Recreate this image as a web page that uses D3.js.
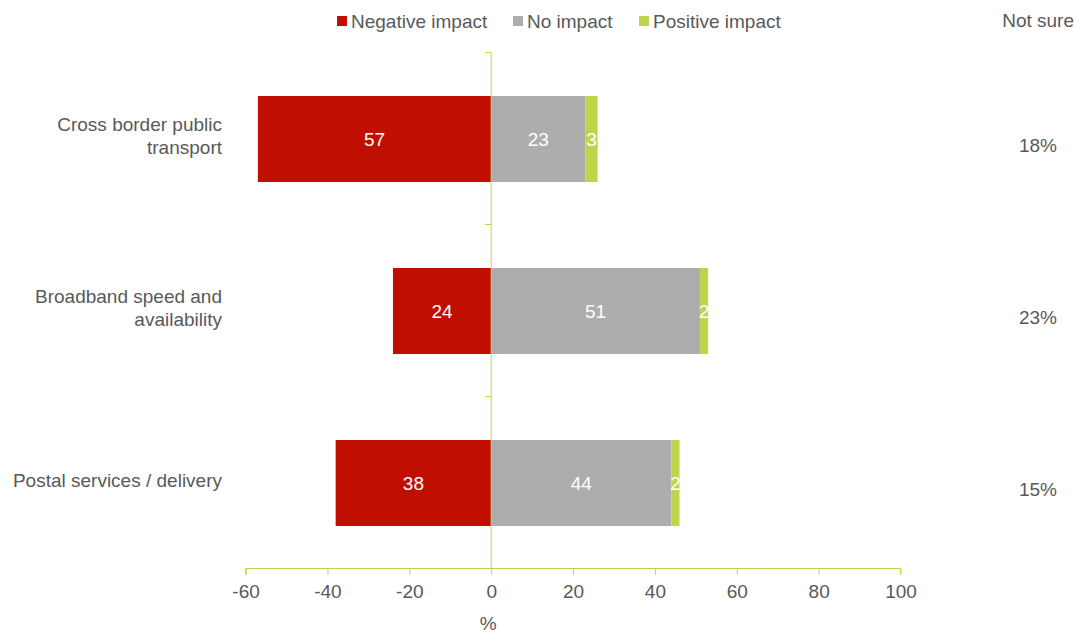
<!DOCTYPE html>
<html><head><meta charset="utf-8">
<script src="https://cdn.jsdelivr.net/npm/d3@7"></script>
<style>body{margin:0;background:#fff}svg{display:block}text{font-family:"Liberation Sans",Arial,sans-serif}</style>
</head><body>
<svg id="c" width="1078" height="634"></svg>
<script>
const categories = [["Cross border public","transport"],["Broadband speed and","availability"],["Postal services / delivery"]];
const negative = [57, 24, 38];
const noImpact = [23, 51, 44];
const positive = [3, 2, 2];
const notSure = ["18%", "23%", "15%"];
const xTicks = [-60,-40,-20,0,20,40,60,80,100];
const seriesNames = ["Negative impact","No impact","Positive impact"];
const colors = ["#C00F00","#ADADAD","#BDD54A"];
const axisColor = "#BDD54A";
const textColor = "#595959";
const fs = 19;

const svg = d3.select("#c");
const x = d3.scaleLinear().domain([-60,100]).range([245.6,900.5]);
const idx = categories.map((d,i)=>i);
const y = d3.scaleBand().domain(idx).range([53,569]).paddingInner(0.5).paddingOuter(0.25);

// bars
const rows = idx.map(i=>({i, segs:[
  {s:0, x0:-negative[i], x1:0, v:negative[i]},
  {s:1, x0:0, x1:noImpact[i], v:noImpact[i]},
  {s:2, x0:noImpact[i], x1:noImpact[i]+positive[i], v:positive[i]}
]}));
const g = svg.append("g");
rows.forEach(r=>{
  r.segs.forEach(s=>{
    g.append("rect").attr("x",x(s.x0)).attr("y",y(r.i)).attr("width",x(s.x1)-x(s.x0)).attr("height",y.bandwidth()).attr("fill",colors[s.s]);
    g.append("text").attr("x",(x(s.x0)+x(s.x1))/2).attr("y",y(r.i)+y.bandwidth()/2).attr("dy","0.35em")
      .attr("text-anchor","middle").attr("fill","#fff").attr("font-size",fs).text(s.v);
  });
});

// x axis
const xa = svg.append("g").attr("transform","translate(0,568.5)")
  .call(d3.axisBottom(x).tickValues(xTicks).tickSize(6).tickPadding(10).tickFormat(d=>String(d)));
xa.select(".domain").attr("stroke",axisColor).attr("d",`M${x(-60)},6V0H${x(100)}V6`);
xa.selectAll(".tick line").attr("stroke",axisColor);
xa.selectAll(".tick text").attr("fill",textColor).attr("font-size",fs).attr("font-family","Liberation Sans, Arial, sans-serif");
svg.append("text").attr("x",x(0)-3).attr("y",630).attr("text-anchor","middle").attr("fill",textColor).attr("font-size",fs).text("%");

// vertical axis at 0
svg.append("line").attr("x1",x(0)).attr("x2",x(0)).attr("y1",52.5).attr("y2",568.5).attr("stroke",axisColor);
const bounds = idx.map(i=>y(i)-y.step()*0.25);
bounds.forEach(b=>{
  const bb = Math.round(b)-0.5;
  svg.append("line").attr("x1",x(0)-6).attr("x2",x(0)).attr("y1",bb).attr("y2",bb).attr("stroke",axisColor);
});

// category labels
idx.forEach(i=>{
  const lines = categories[i];
  const cy = y(i)+y.bandwidth()/2 - 3;
  const t = svg.append("text").attr("text-anchor","end").attr("fill",textColor).attr("font-size",fs);
  lines.forEach((l,k)=>{
    t.append("tspan").attr("x",222).attr("y",cy + (k-(lines.length-1)/2)*23).attr("dy","0.35em").text(l);
  });
});

// not sure
svg.append("text").attr("x",1074).attr("y",20).attr("dy","0.35em").attr("text-anchor","end").attr("fill",textColor).attr("font-size",fs).text("Not sure");
idx.forEach(i=>{
  svg.append("text").attr("x",1038).attr("y",y(i)+y.bandwidth()/2+6).attr("dy","0.35em").attr("text-anchor","middle").attr("fill",textColor).attr("font-size",fs).text(notSure[i]);
});

// legend
const legX = [337,513,639];
seriesNames.forEach((n,k)=>{
  svg.append("rect").attr("x",legX[k]).attr("y",16).attr("width",10).attr("height",10).attr("fill",colors[k]);
  svg.append("text").attr("x",legX[k]+14).attr("y",21).attr("dy","0.35em").attr("fill",textColor).attr("font-size",fs).text(n);
});
</script>
</body></html>
